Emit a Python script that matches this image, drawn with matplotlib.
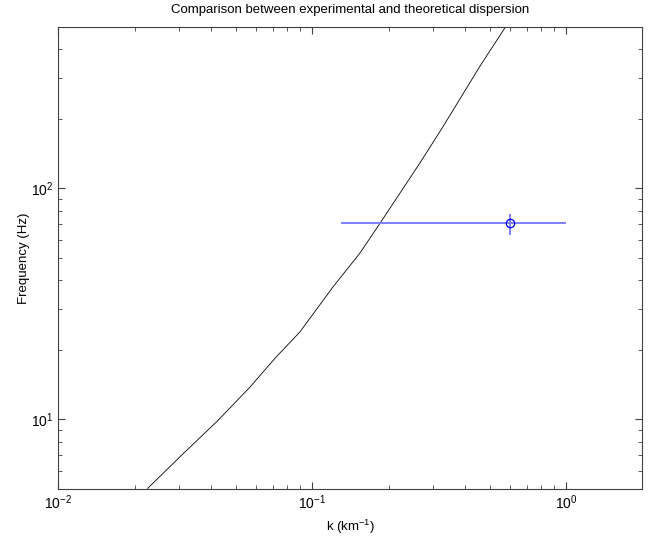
import matplotlib
matplotlib.use('Agg')
import matplotlib.pyplot as plt

plt.rcParams['font.family'] = ['Liberation Sans', 'DejaVu Sans']
plt.rcParams['mathtext.fontset'] = 'custom'
plt.rcParams['mathtext.rm'] = 'Liberation Sans'
plt.rcParams['mathtext.it'] = 'Liberation Sans'
plt.rcParams['mathtext.default'] = 'regular'

# theoretical dispersion curve (k in km^-1, frequency in Hz)
k_theory = [0.0225, 0.0311, 0.0427, 0.0569, 0.0724, 0.0895, 0.121, 0.154,
            0.185, 0.265, 0.328, 0.457, 0.579]
f_theory = [5.03, 7.12, 9.93, 13.8, 18.7, 23.9, 37.5, 52.3,
            70.5, 128, 185, 336, 501]

# experimental point with error bars
k_exp = [0.60]
f_exp = [70.5]
k_err_lo = [0.47]
k_err_hi = [0.40]
f_err_lo = [7.5]
f_err_hi = [7.0]

fig = plt.figure(figsize=(6.49, 5.37), dpi=100)
ax = fig.add_axes([0.0898, 0.0894, 0.8999, 0.8606])

ax.plot(k_theory, f_theory, color='k', lw=0.6)
ax.errorbar(k_exp, f_exp, xerr=[k_err_lo, k_err_hi], yerr=[f_err_lo, f_err_hi],
            fmt='o', mfc='none', mec='#0000ff', ms=6, mew=0.9,
            ecolor='#7f7fff', elinewidth=1.4, capsize=0)

ax.set_xscale('log')
ax.set_yscale('log')
ax.set_xlim(0.01, 2)
ax.set_ylim(5, 500)

ax.tick_params(which='both', direction='in', top=True, right=True,
               labelsize=10, color='#404040')
ax.tick_params(which='major', length=5)
ax.tick_params(which='minor', length=3)
for s in ax.spines.values():
    s.set_color('#404040')
    s.set_linewidth(0.8)

ax.set_title('Comparison between experimental and theoretical dispersion',
             fontsize=9.5, pad=10)
ax.set_xlabel('k (km$^{-1}$)', fontsize=9.5)
ax.set_ylabel('Frequency (Hz)', fontsize=9.5, labelpad=1)

fig.savefig('out.png', dpi=100)
